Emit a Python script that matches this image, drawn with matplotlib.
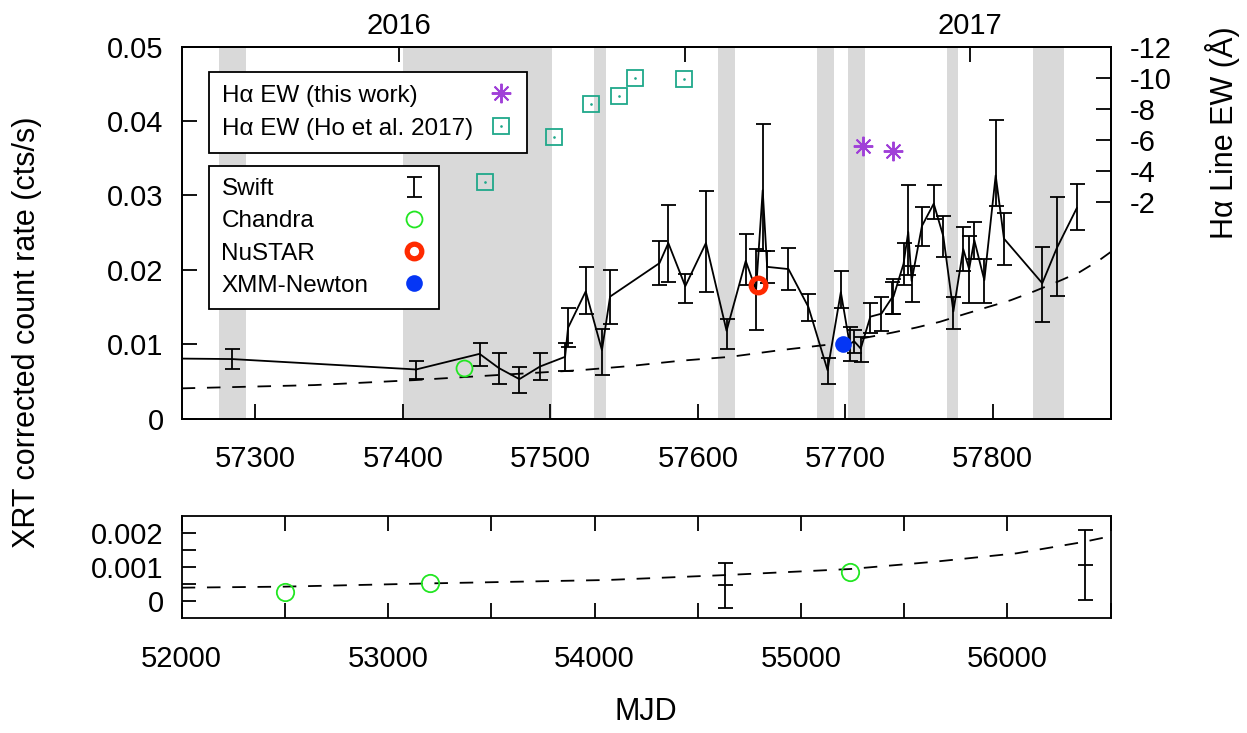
import numpy as np
import matplotlib
matplotlib.use('Agg')
import matplotlib.pyplot as plt
from matplotlib.lines import Line2D
from matplotlib.container import ErrorbarContainer
from matplotlib.legend_handler import HandlerErrorbar, HandlerTuple

plt.rcParams['font.family'] = ['Liberation Sans', 'DejaVu Sans']
plt.rcParams['axes.unicode_minus'] = False

# ---------------- data ----------------
# Swift XRT light curve, recent epoch (MJD, rate, lower bound, upper bound)
swift_mjd = [57230, 57284, 57409, 57452, 57465, 57479, 57493, 57510, 57512, 57524,
             57535, 57540.5, 57574, 57580, 57591.5, 57605.5, 57619.5, 57632.5, 57639.5, 57644,
             57647, 57661.5, 57675, 57688, 57697, 57703, 57706, 57710.5, 57717, 57724.5,
             57731.5, 57732.7, 57739.5, 57742.7, 57745, 57752, 57760, 57766.5, 57773.3, 57780,
             57784, 57787.5, 57794.3, 57802, 57807.6, 57833.6, 57843.4, 57857]
swift_rate = [0.0081, 0.0080, 0.0066, 0.0087, 0.0068, 0.0053, 0.0070, 0.0083, 0.0122, 0.0171,
              0.0092, 0.0164, 0.0209, 0.0236, 0.0178, 0.0236, 0.0118, 0.0212, 0.0173, 0.0307,
              0.0204, 0.0201, 0.0150, 0.0065, 0.0170, 0.0100, 0.0104, 0.0094, 0.0137, 0.0141,
              0.0162, 0.0164, 0.0208, 0.0251, 0.0185, 0.0259, 0.0289, 0.0245, 0.0144, 0.0228,
              0.0201, 0.0240, 0.0186, 0.0327, 0.0242, 0.0182, 0.0229, 0.0283]
swift_lo = [0.0068, 0.00665, 0.0053, 0.0071, 0.0046, 0.0035, 0.0052, 0.0064, 0.0096, 0.0141,
            0.0058, 0.0127, 0.0179, 0.0183, 0.0156, 0.0170, 0.0093, 0.0180, 0.0119, 0.0225,
            0.0182, 0.0173, 0.0131, 0.0046, 0.0149, 0.0078, 0.0088, 0.0076, 0.0115, 0.0118,
            0.0140, 0.0140, 0.0179, 0.0193, 0.0157, 0.0232, 0.0268, 0.0217, 0.0121, 0.0198,
            0.0156, 0.0215, 0.0156, 0.0286, 0.0207, 0.0130, 0.0165, 0.0253]
swift_hi = [0.0094, 0.0093, 0.0078, 0.0102, 0.0088, 0.0069, 0.0088, 0.0102, 0.0149, 0.0204,
            0.0120, 0.0200, 0.0239, 0.0287, 0.0194, 0.0306, 0.0134, 0.0248, 0.0228, 0.0396,
            0.0225, 0.0230, 0.0168, 0.0081, 0.0198, 0.0123, 0.0119, 0.0110, 0.0156, 0.0164,
            0.0184, 0.0187, 0.0236, 0.0314, 0.0205, 0.0285, 0.0314, 0.0273, 0.0163, 0.0258,
            0.0245, 0.0265, 0.0215, 0.0401, 0.0277, 0.0231, 0.0298, 0.0315]

chandra_mjd = [57441.6]
chandra_rate = [0.00675]
nustar_mjd = [57640.6]
nustar_rate = [0.0180]
xmm_mjd = [57698.3]
xmm_rate = [0.0100]

# H-alpha equivalent widths (Angstrom)
ha_this_mjd = [57711.8, 57732.5]
ha_this_ew = [-5.59, -5.27]
ha_ho_mjd = [57455.7, 57502.7, 57527.9, 57546.6, 57557.6, 57590.5]
ha_ho_ew = [-3.25, -6.19, -8.28, -8.79, -10.01, -9.95]

# model curve (dashed)
model_top_mjd = [57250, 57340, 57408, 57475, 57520, 57554, 57588, 57622, 57656, 57690,
                 57732, 57748, 57764, 57781, 57796, 57812, 57828, 57844, 57859, 57873, 57880]
model_top_rate = [0.00406, 0.0045, 0.00517, 0.00598, 0.0065, 0.00706, 0.00777, 0.0083, 0.0092, 0.00997,
                  0.01156, 0.01223, 0.0130, 0.01405, 0.01495, 0.0159, 0.0171, 0.0184, 0.0197, 0.0214, 0.0224]

# shaded windows (MJD start, end)
shade_start = [57275.5, 57399.9, 57529.8, 57613.5, 57680.6, 57702.0, 57768.8, 57827.5]
shade_end = [57293.4, 57500.9, 57537.5, 57625.2, 57692.4, 57713.3, 57776.4, 57848.5]

# archival epoch (lower panel)
old_swift_mjd = [54630, 56377]
old_swift_rate = [0.00047, 0.00106]
old_swift_lo = [-0.00019, 0.00004]
old_swift_hi = [0.00113, 0.00207]
old_chandra_mjd = [52500, 53202, 55235]
old_chandra_rate = [0.00026, 0.00054, 0.00086]
model_bot_mjd = [52000, 52497, 53203, 54065, 54640, 55237, 55641, 56045, 56367, 56500]
model_bot_rate = [0.000395, 0.000425, 0.00052, 0.00062, 0.000765, 0.00094, 0.00115, 0.0014, 0.00173, 0.0019]

year_tick_mjd = [57397.2, 57591.0, 57784.6]
year_tick_labels = ['2016', '', '2017']

# ---------------- styling ----------------
C_CHANDRA = '#22e622'
C_NUSTAR = '#ff2a00'
C_XMM = '#0536f5'
C_STAR = '#a040d8'
C_SQ = '#1fa88a'
C_SHADE = '#d9d9d9'
FS_TICK = 21
FS_LEG = 17.5
TL = 10.8
LW = 1.3


def spread_legend(leg, width_px):
    """Left-align legend labels and put all symbols in one right-hand column."""
    for col in leg._legend_handle_box.get_children():
        for item in col.get_children():
            item.mode = 'expand'
            item.width = width_px


fig = plt.figure(figsize=(12.47, 7.33), dpi=100)
ax = fig.add_axes([0.1457, 0.4290, 0.7450, 0.5072])
axb = fig.add_axes([0.1457, 0.1565, 0.7450, 0.1400])

for a in (ax, axb):
    for s in a.spines.values():
        s.set_linewidth(1.3)

# --- top panel ---
for s0, s1 in zip(shade_start, shade_end):
    ax.axvspan(s0, s1, color=C_SHADE, lw=0, zorder=0)

ax.plot(model_top_mjd, model_top_rate, color='k', lw=LW, dashes=(7.5, 6.5), zorder=2)
ax.plot(swift_mjd, swift_rate, color='k', lw=LW, zorder=3)
r = np.array(swift_rate)
yerr = [r - np.array(swift_lo), np.array(swift_hi) - r]
h_swift = ax.errorbar(swift_mjd, swift_rate, yerr=yerr, fmt='none', ecolor='k',
                      elinewidth=LW, capsize=5.4, capthick=LW, zorder=3)
ax.plot(chandra_mjd, chandra_rate, ls='none', marker='o', mfc='none', mec=C_CHANDRA,
        mew=1.3, ms=11.5, zorder=4)
ax.plot(nustar_mjd, nustar_rate, ls='none', marker='o', mfc='none', mec=C_NUSTAR,
        mew=3.8, ms=10.5, zorder=4)
ax.plot(xmm_mjd, xmm_rate, ls='none', marker='o', mfc=C_XMM, mec=C_XMM,
        mew=0, ms=12, zorder=4)

ax.set_xlim(57250, 57880)
ax.set_ylim(0, 0.05)
ax.set_xticks([57300, 57400, 57500, 57600, 57700, 57800])
ax.set_yticks([0, 0.01, 0.02, 0.03, 0.04, 0.05])
ax.set_yticklabels(['0', '0.01', '0.02', '0.03', '0.04', '0.05'])
ax.tick_params(axis='x', direction='in', length=TL, width=LW, labelsize=FS_TICK, pad=19,
               top=False, bottom=True)
ax.tick_params(axis='y', direction='in', length=TL, width=LW, labelsize=FS_TICK, pad=13,
               left=True, right=False)

sec = ax.secondary_xaxis('top')
sec.set_xticks(year_tick_mjd)
sec.set_xticklabels(year_tick_labels)
sec.tick_params(direction='in', length=TL, width=LW, labelsize=FS_TICK, pad=5)
sec.spines['top'].set_linewidth(1.3)

ax2 = ax.twinx()
ax2.set_ylim(12, -12)
ax2.set_yticks([-12, -10, -8, -6, -4, -2])
ax2.tick_params(axis='y', direction='in', length=TL, width=LW, labelsize=FS_TICK, pad=14)
for s in ax2.spines.values():
    s.set_linewidth(1.3)
ax2.plot(ha_this_mjd, ha_this_ew, ls='none', marker=(8, 2, 0), ms=14, mew=1.4,
         color=C_STAR, zorder=4)
ax2.plot(ha_ho_mjd, ha_ho_ew, ls='none', marker='s', ms=12, mew=1.3, mfc='none',
         mec=C_SQ, zorder=4)
ax2.plot(ha_ho_mjd, ha_ho_ew, ls='none', marker='.', ms=1.8, color=C_SQ, zorder=4)

# legends
h_ch = Line2D([], [], ls='none', marker='o', mfc='none', mec=C_CHANDRA, mew=1.3, ms=11.5)
h_nu = Line2D([], [], ls='none', marker='o', mfc='none', mec=C_NUSTAR, mew=3.8, ms=10.5)
h_xm = Line2D([], [], ls='none', marker='o', mfc=C_XMM, mec=C_XMM, mew=0, ms=12)
leg2 = ax.legend([h_swift, h_ch, h_nu, h_xm], ['Swift', 'Chandra', 'NuSTAR', 'XMM-Newton'],
                 loc='upper left', bbox_to_anchor=(0.0297, 0.679), markerfirst=False,
                 fontsize=FS_LEG, fancybox=False, edgecolor='k', framealpha=1,
                 borderpad=0.5, labelspacing=0.42, handlelength=1.0, handletextpad=1.0,
                 borderaxespad=0, handler_map={ErrorbarContainer: HandlerErrorbar(yerr_size=0.41)})
leg2.get_frame().set_linewidth(1.3)
leg2.set_zorder(10)
spread_legend(leg2, 205)

h_st = Line2D([], [], ls='none', marker=(8, 2, 0), ms=14, mew=1.4, color=C_STAR)
h_sq = Line2D([], [], ls='none', marker='s', ms=12, mew=1.3, mfc='none', mec=C_SQ)
h_dot = Line2D([], [], ls='none', marker='.', ms=1.8, color=C_SQ)
leg1 = ax2.legend([h_st, (h_sq, h_dot)], ['H\u03b1 EW (this work)', 'H\u03b1 EW (Ho et al. 2017)'],
                  loc='upper left', bbox_to_anchor=(0.0297, 0.933), markerfirst=False,
                  fontsize=FS_LEG, fancybox=False, edgecolor='k', framealpha=1,
                  borderpad=0.54, labelspacing=0.45, handlelength=1.0, handletextpad=0.55,
                  borderaxespad=0, handler_map={tuple: HandlerTuple(ndivide=1)})
leg1.get_frame().set_linewidth(1.3)
spread_legend(leg1, 291)

# --- bottom panel ---
axb.plot(model_bot_mjd, model_bot_rate, color='k', lw=LW, dashes=(7.5, 6.5), zorder=2)
rb = np.array(old_swift_rate)
yerr_b = [rb - np.array(old_swift_lo), np.array(old_swift_hi) - rb]
axb.errorbar(old_swift_mjd, old_swift_rate, yerr=yerr_b, fmt='_', color='k', ms=10.8,
             mew=LW, elinewidth=LW, capsize=5.4, capthick=LW, zorder=3)
axb.plot(old_chandra_mjd, old_chandra_rate, ls='none', marker='o', mfc='none',
         mec=C_CHANDRA, mew=1.3, ms=12.5, zorder=4)
axb.set_xlim(52000, 56500)
axb.set_ylim(-0.0005, 0.0025)
axb.set_xticks(np.arange(52000, 56501, 500))
axb.set_xticklabels(['52000', '', '53000', '', '54000', '', '55000', '', '56000', ''])
axb.set_yticks([0, 0.0005, 0.001, 0.0015, 0.002])
axb.set_yticklabels(['0', '', '0.001', '', '0.002'])
axb.tick_params(axis='x', direction='in', length=TL, width=LW, labelsize=FS_TICK, pad=19,
                top=True, bottom=True)
axb.tick_params(axis='y', direction='in', length=10, width=LW, labelsize=FS_TICK, pad=13,
                left=True, right=False)

# axis titles
fig.text(27 / 1247, 1 - 332.5 / 733, 'XRT corrected count rate (cts/s)', rotation=90,
         ha='center', va='center', fontsize=22)
fig.text(1223 / 1247, 1 - 133 / 733, 'H\u03b1 Line EW (\u00c5)', rotation=90,
         ha='center', va='center', fontsize=22)
fig.text(646 / 1247, 1 - 712 / 733, 'MJD', ha='center', va='center', fontsize=22)

fig.savefig('out.png', dpi=100)
